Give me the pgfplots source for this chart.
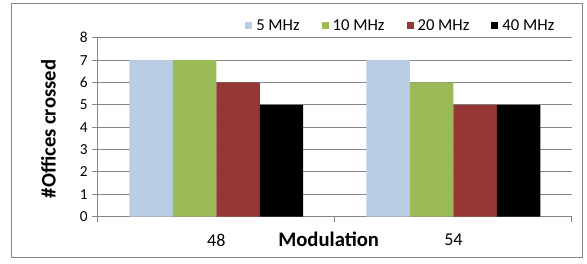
\documentclass[border=0pt]{standalone}
\usepackage{pgfplots}
\pgfplotsset{compat=1.18}
\usepackage{fontspec}
\setmainfont{Carlito}
\definecolor{c5}{HTML}{B9CDE5}
\definecolor{c10}{HTML}{9BBB59}
\definecolor{c20}{HTML}{953735}
\definecolor{axgray}{HTML}{868686}
\begin{document}
\begin{tikzpicture}[x=0.75pt,y=0.75pt]
\useasboundingbox (0,0) rectangle (587,264);
\draw[axgray, line width=0.75pt] (11,6) rectangle (582,260);
\begin{axis}[
  at={(73.275pt,35.475pt)}, anchor=south west,
  scale only axis, width=355.7pt, height=134.25pt,
  ybar=0pt, bar width=0.1834,
  xmin=-0.5, xmax=1.5, ymin=0, ymax=8,
  xtick={-0.5,0.5,1.5}, xticklabels={},
  extra x ticks={0,1}, extra x tick labels={48,54},
  extra x tick style={major tick length=0pt,
     tick label style={font=\fontsize{13.5}{16}\selectfont, yshift=-9.5pt}},
  ytick={0,...,8},
  axis x line*=bottom, axis y line*=left,
  axis line style={axgray, line width=0.75pt, -},
  ymajorgrids, grid style={axgray, line width=0.75pt},
  tick align=outside,
  major tick length=4pt,
  tick style={axgray, line width=0.75pt},
  /pgf/number format/assume math mode=true,
  yticklabel style={font=\fontsize{11.5}{13}\selectfont},
  xlabel={Modulation},
  xlabel style={at={(axis description cs:0.487,-0.128)}, anchor=center, font=\bfseries\fontsize{15.5}{18}\selectfont},
  ylabel={\#Offices crossed},
  ylabel style={at={(axis description cs:-0.104,0.49)}, anchor=center, font=\bfseries\fontsize{15.5}{18}\selectfont},
  legend columns=4,
  legend style={at={(axis description cs:0.3106,1.067)}, anchor=west, draw=none, fill=none,
     inner sep=0pt, font=\fontsize{12.5}{15}\selectfont,
     nodes={inner xsep=3pt, inner ysep=0pt},
     /tikz/every even column/.append style={column sep=13.5pt}},
  legend image code/.code={\fill[#1] (0pt,-2.625pt) rectangle (5.25pt,2.625pt);},
]
\addplot[fill=c5, draw=none] coordinates {(0,7) (1,7)};
\addplot[fill=c10, draw=none] coordinates {(0,7) (1,6)};
\addplot[fill=c20, draw=none] coordinates {(0,6) (1,5)};
\addplot[fill=black, draw=none] coordinates {(0,5) (1,5)};
\legend{5 MHz, 10 MHz, 20 MHz, 40 MHz}
\end{axis}
\end{tikzpicture}
\end{document}
